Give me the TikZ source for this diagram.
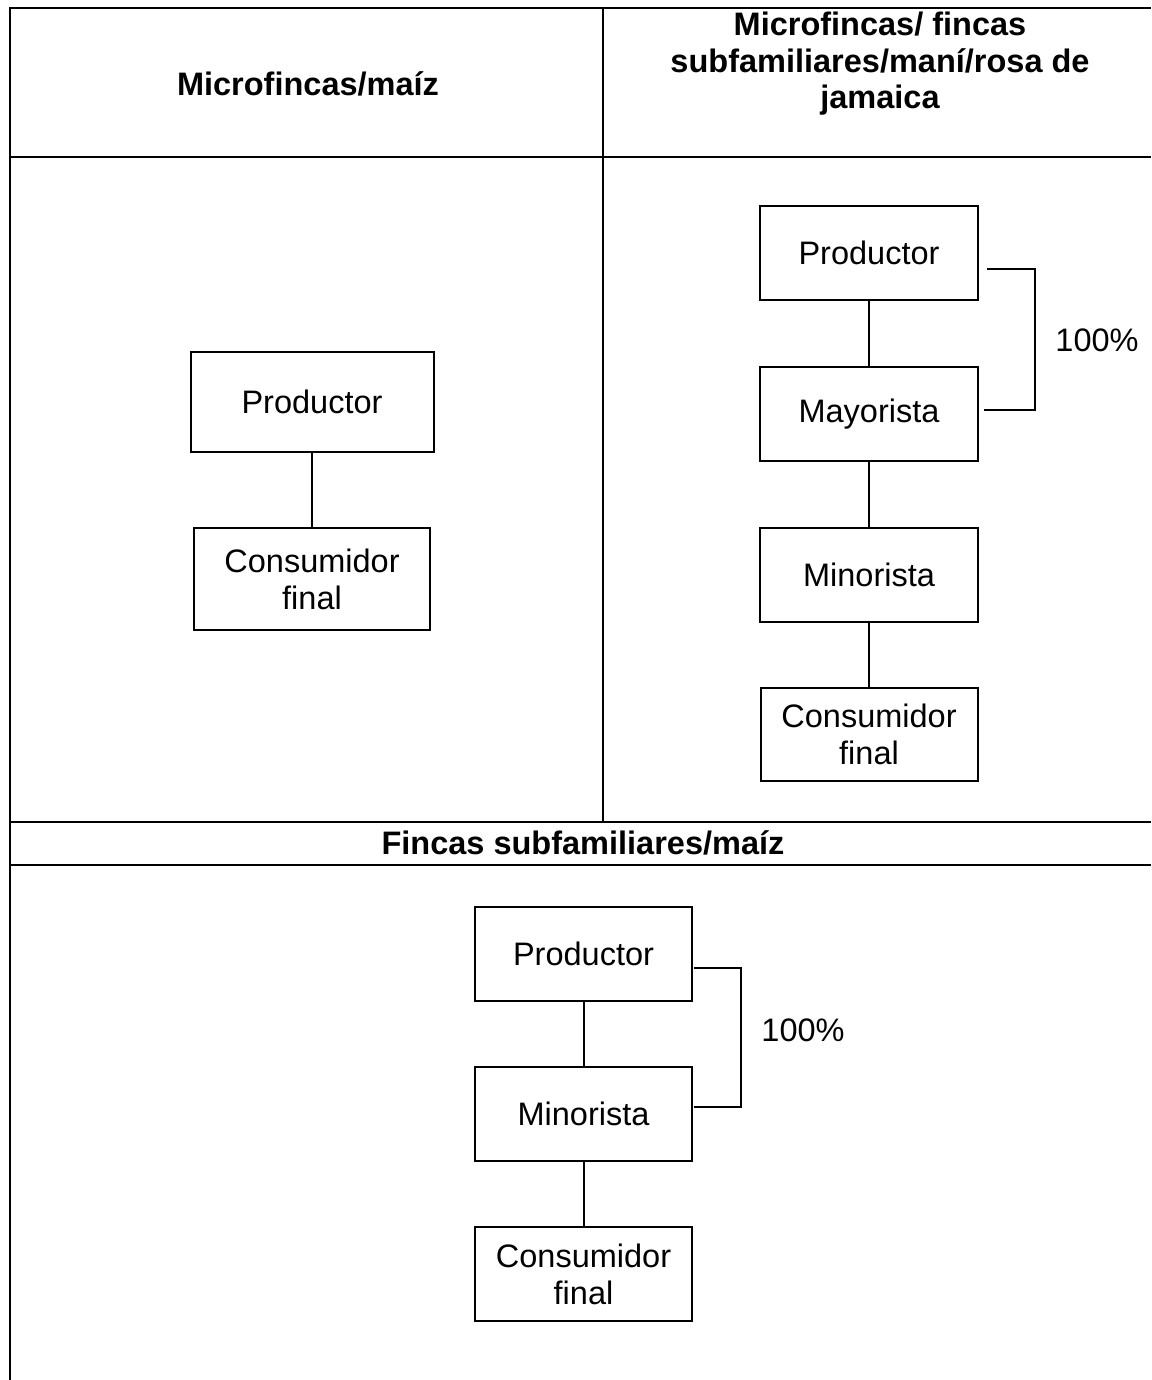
\documentclass[tikz,border=0pt]{standalone}
\usepackage{fontspec}
\setmainfont{Liberation Sans}
\begin{document}
\begin{tikzpicture}[x=1pt,y=-1pt,
  frame/.style={line width=2.6pt},
  box/.style={draw,line width=2pt,rectangle,inner sep=0pt,align=center,
     font=\fontsize{32.5}{37}\selectfont},
  link/.style={line width=2pt},
  head/.style={align=center,font=\fontsize{32.5}{36.5}\selectfont\bfseries},
  pct/.style={font=\fontsize{32.5}{37}\selectfont}]
\useasboundingbox (0,0) rectangle (1151,1380);
% frame
\draw[frame] (10,1380) -- (10,8) -- (1151,8);
\draw[frame] (10,157) -- (1151,157);
\draw[frame] (10,822) -- (1151,822);
\draw[frame] (10,865) -- (1151,865);
\draw[frame] (603,8) -- (603,822);
% headers
\node[head] (h1) at (308,84) {Microfincas/maíz};
\node[head] (h2) at (880,64) {Microfincas/ fincas\\subfamiliares/maní/rosa de\\jamaica};
\node[head] (h3) at (583,843) {Fincas subfamiliares/maíz};
% left column
\node[box,minimum width=243pt,minimum height=100pt] (lp) at (312,402) {Productor};
\node[box,minimum width=236pt,minimum height=102pt] (lc) at (312,579) {Consumidor\\final};
\draw[link] (lp) -- (lc);
% right column
\node[box,minimum width=218pt,minimum height=94pt] (rp) at (869,253) {Productor};
\node[box,minimum width=218pt,minimum height=94pt] (rma) at (869,414) {Mayorista};
\node[box,minimum width=218pt,minimum height=94pt] (rmi) at (869,575) {Minorista};
\node[box,minimum width=217pt,minimum height=93pt] (rc) at (869,734.5) {Consumidor\\final};
\draw[link] (rp) -- (rma);
\draw[link] (rma) -- (rmi);
\draw[link] (rmi) -- (rc);
\coordinate (rb1) at (987,269);
\coordinate (rb2) at (984,410);
\draw[link] (rb1) -- (1035,269) -- (1035,410) -- (rb2);
\node[pct] (rpct) at (1097,340) {100\%};
% bottom
\node[box,minimum width=217pt,minimum height=94pt] (bp) at (583.5,954) {Productor};
\node[box,minimum width=217pt,minimum height=94pt] (bmi) at (583.5,1114) {Minorista};
\node[box,minimum width=217pt,minimum height=94pt] (bc) at (583.5,1274) {Consumidor\\final};
\draw[link] (bp) -- (bmi);
\draw[link] (bmi) -- (bc);
\coordinate (bb1) at (694,968);
\coordinate (bb2) at (694,1107);
\draw[link] (bb1) -- (741,968) -- (741,1107) -- (bb2);
\node[pct] (bpct) at (803,1030) {100\%};
\end{tikzpicture}
\end{document}
